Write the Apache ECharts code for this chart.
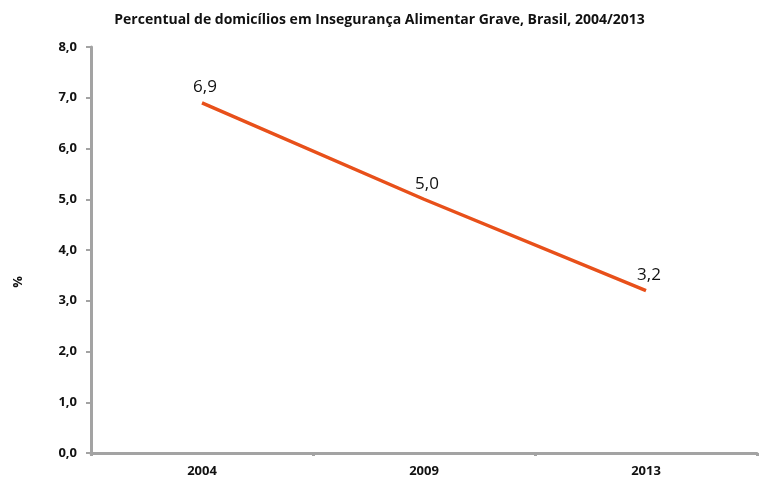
<!DOCTYPE html>
<html lang="pt">
<head>
    <meta charset="UTF-8">
    <title>Insegurança Alimentar Grave</title>
    <style>
        html, body { margin: 0; padding: 0; background: #fff; }
        #chart { width: 759px; height: 478px; }
    </style>
    <script src="https://cdn.jsdelivr.net/npm/echarts@6/dist/echarts.min.js"></script>
</head>
<body>
<div id="chart"></div>
<script>
    // dados
    const anos = ['2004', '2009', '2013'];
    const percentual = [6.9, 5.0, 3.2];
    const yTicks = [0, 1, 2, 3, 4, 5, 6, 7, 8];

    const fonte = '"Open Sans", "Noto Sans", sans-serif';
    const cinza = '#a3a3a3';
    const fmt = v => v.toFixed(1).replace('.', ',');

    const chart = echarts.init(document.getElementById('chart'), null, {renderer: 'canvas'});
    chart.setOption({
        animation: false,
        title: {
            text: 'Percentual de domicílios em Insegurança Alimentar Grave, Brasil, 2004/2013',
            left: 'center',
            top: 8,
            textStyle: {fontFamily: fonte, fontSize: 14, fontWeight: 'bold', color: '#111'}
        },
        grid: {left: 91, right: 2, top: 47, bottom: 23, containLabel: false},
        xAxis: {
            type: 'category',
            data: anos,
            boundaryGap: true,
            axisLine: {lineStyle: {color: cinza, width: 3}},
            axisTick: {show: true, length: 3, lineStyle: {color: cinza, width: 3}},
            axisLabel: {fontFamily: fonte, fontSize: 13, fontWeight: 'bold', color: '#111', margin: 12},
            splitLine: {show: false}
        },
        yAxis: {
            type: 'value',
            min: yTicks[0],
            max: yTicks[yTicks.length - 1],
            interval: 1,
            name: '%',
            nameLocation: 'middle',
            nameGap: 66,
            nameRotate: 90,
            nameTextStyle: {fontFamily: fonte, fontSize: 13, fontWeight: 'bold', color: '#111', padding: [0, 64, 0, 0]},
            axisLine: {show: true, lineStyle: {color: cinza, width: 3}},
            axisTick: {show: true, length: 5, lineStyle: {color: cinza, width: 2}},
            axisLabel: {fontFamily: fonte, fontSize: 13, fontWeight: 'bold', color: '#111', margin: 14, formatter: fmt},
            splitLine: {show: false}
        },
        series: [{
            type: 'line',
            data: percentual,
            showSymbol: true,
            symbol: 'circle',
            symbolSize: 2,
            itemStyle: {color: 'rgba(232,80,26,0)', borderWidth: 0},
            lineStyle: {color: '#e8501a', width: 3.5},
            label: {
                show: true,
                position: 'top',
                distance: 6,
                offset: [3, 0],
                fontFamily: fonte,
                fontSize: 17,
                color: '#111',
                formatter: p => fmt(p.value)
            }
        }]
    });
</script>
</body>
</html>
